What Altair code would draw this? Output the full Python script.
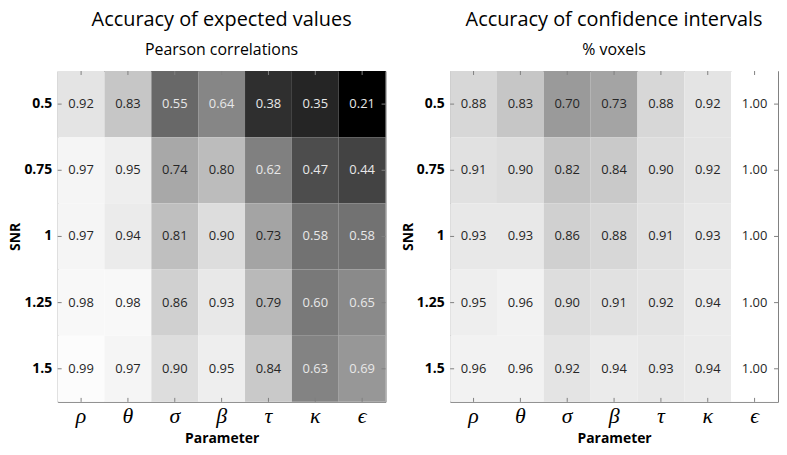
import altair as alt
import pandas as pd

params = ["ρ", "θ", "σ", "β", "τ", "κ", "ϵ"]
snr = ["0.5", "0.75", "1", "1.25", "1.5"]

pearson = [
    [0.92, 0.83, 0.55, 0.64, 0.38, 0.35, 0.21],
    [0.97, 0.95, 0.74, 0.80, 0.62, 0.47, 0.44],
    [0.97, 0.94, 0.81, 0.90, 0.73, 0.58, 0.58],
    [0.98, 0.98, 0.86, 0.93, 0.79, 0.60, 0.65],
    [0.99, 0.97, 0.90, 0.95, 0.84, 0.63, 0.69],
]
voxels = [
    [0.88, 0.83, 0.70, 0.73, 0.88, 0.92, 1.00],
    [0.91, 0.90, 0.82, 0.84, 0.90, 0.92, 1.00],
    [0.93, 0.93, 0.86, 0.88, 0.91, 0.93, 1.00],
    [0.95, 0.96, 0.90, 0.91, 0.92, 0.94, 1.00],
    [0.96, 0.96, 0.92, 0.94, 0.93, 0.94, 1.00],
]

FONT = "Open Sans"
W, H = 330, 333
FRAME = "#808080"


def long(mat):
    rows = []
    for i, s in enumerate(snr):
        for j, p in enumerate(params):
            rows.append({"snr": s, "param": p, "value": mat[i][j]})
    return pd.DataFrame(rows)


xscale = alt.Scale(paddingInner=0, paddingOuter=0)
yscale = alt.Scale(paddingInner=0, paddingOuter=0)
xaxis = alt.Axis(title="Parameter", labelFont="Liberation Serif", labelFontStyle="italic",
                 labelFontSize=22, labelAngle=0, labelPadding=4, ticks=False, domain=False,
                 labelColor="#000000", titleFont=FONT, titleFontSize=14, titleFontWeight="bold",
                 titleColor="#000000", titlePadding=5)
yaxis = alt.Axis(title="SNR", labelFont=FONT, labelFontSize=14, labelFontWeight="bold",
                 labelColor="#000000", labelPadding=6, ticks=False, domain=False,
                 titleFont=FONT, titleFontSize=14, titleFontWeight="bold",
                 titleColor="#000000", titlePadding=1)


def X(band=None):
    if band is None:
        return alt.X("param:N", sort=params, scale=xscale, axis=xaxis)
    return alt.X("param:N", sort=params, scale=xscale, axis=xaxis, bandPosition=band)


def Y(band=None):
    if band is None:
        return alt.Y("snr:N", sort=snr, scale=yscale, axis=yaxis)
    return alt.Y("snr:N", sort=snr, scale=yscale, axis=yaxis, bandPosition=band)


def panel(mat, title, subtitle):
    df = long(mat)
    base = alt.Chart(df)
    rect = base.mark_rect().encode(
        x=X(), y=Y(),
        color=alt.Color("value:Q", scale=alt.Scale(domain=[0.24, 1.0], range=["#000000", "#ffffff"],
                                                   interpolate="rgb", clamp=True), legend=None),
    )
    text = base.mark_text(font=FONT, fontSize=13).encode(
        x=X(), y=Y(),
        text=alt.Text("value:Q", format=".2f"),
        color=alt.condition(alt.datum.value < 0.7, alt.value("#e8e8e8"), alt.value("#262626")),
    )
    pdf = pd.DataFrame({"param": params})
    sdf = pd.DataFrame({"snr": snr})
    t_top = alt.Chart(pdf).mark_rule(color=FRAME).encode(x=X(0.5), y=alt.value(0), y2=alt.value(4))
    t_bot = alt.Chart(pdf).mark_rule(color=FRAME).encode(x=X(0.5), y=alt.value(H), y2=alt.value(H - 4))
    t_left = alt.Chart(sdf).mark_rule(color=FRAME).encode(y=Y(0.5), x=alt.value(0), x2=alt.value(4))
    t_right = alt.Chart(sdf).mark_rule(color=FRAME).encode(y=Y(0.5), x=alt.value(W), x2=alt.value(W - 4))
    return alt.layer(rect, text, t_top, t_bot, t_left, t_right).properties(
        width=W, height=H,
        title=alt.TitleParams(text=title, subtitle=subtitle, font=FONT, fontSize=20,
                              fontWeight="normal", color="#000000", subtitleFont=FONT,
                              subtitleFontSize=16, subtitleColor="#000000", subtitlePadding=12,
                              anchor="middle", frame="group", offset=13),
    )


left = panel(pearson, "Accuracy of expected values", "Pearson correlations")
right = panel(voxels, "Accuracy of confidence intervals", "% voxels")

chart = alt.hconcat(left, right, spacing=14).properties(padding=0).configure_view(
    stroke=FRAME, strokeWidth=1
)

chart.save("out.html", embed_options={"renderer": "svg", "actions": False})
